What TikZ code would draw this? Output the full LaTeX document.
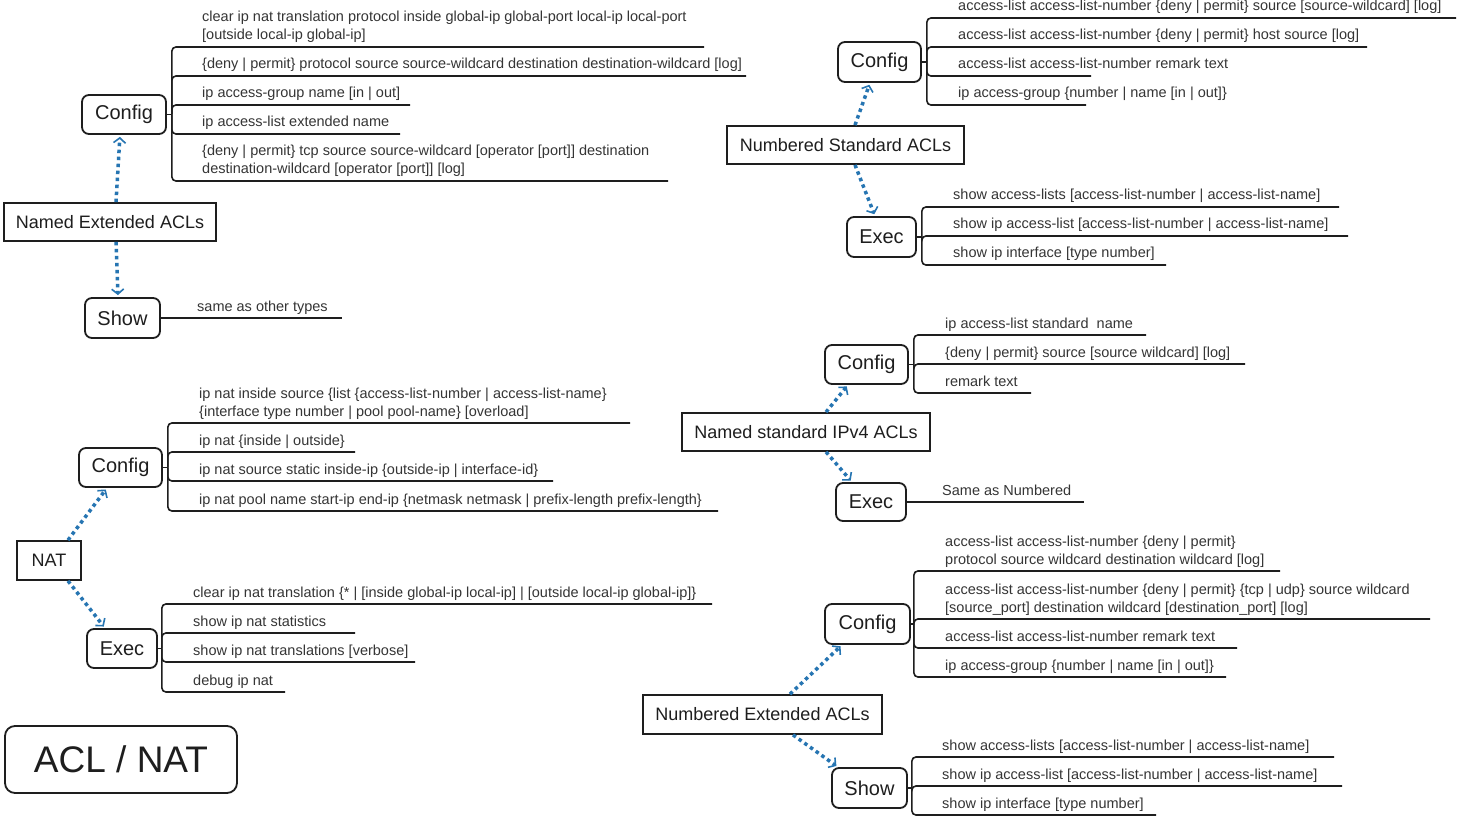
\documentclass[tikz,border=0pt]{standalone}
\usepackage{fontspec}
\setmainfont{Liberation Sans}
\usetikzlibrary{arrows.meta}
\definecolor{acblue}{RGB}{38,117,178}
\definecolor{ink}{RGB}{30,30,30}
% single-line item: parent, stub, underline y, line end x, text x, name, text
\newcommand\itm[7]{%
  \draw[bline,sharp corners] (#1.east) -- ++(#2,0);
  \draw[bline] (#1.east) ++(#2,0) |- (#4,#3);
  \node[itemtxt] (#6) at (#5,#3-7) {#7};}
% two-line item
\newcommand\itmm[8]{%
  \draw[bline,sharp corners] (#1.east) -- ++(#2,0);
  \draw[bline] (#1.east) ++(#2,0) |- (#4,#3);
  \node[itemtxt] (#6a) at (#5,#3-25) {#7};
  \node[itemtxt] (#6b) at (#5,#3-7) {#8};}
\begin{document}
\begin{tikzpicture}[x=1pt,y=-1pt,
  rootbox/.style={draw=ink, line width=1.8pt, inner sep=0pt, font=\fontsize{18}{20}\selectfont, text=ink},
  subbox/.style={draw=ink, line width=1.8pt, rounded corners=7pt, inner sep=0pt, font=\fontsize{20}{22}\selectfont, text=ink},
  bline/.style={draw=ink, line width=1.6pt, rounded corners=4pt},
  itemtxt/.style={anchor=base west, inner sep=0pt, font=\fontsize{14.5}{18}\selectfont, text=ink!90},
  conn/.style={draw=acblue, line width=3.5pt, dash pattern=on 3.5pt off 3.5pt,
    -{Straight Barb[length=5pt,width=12pt,line width=1.6pt]}, shorten >=2pt},
]
\fill[white] (0,0) rectangle (1461,818);
\useasboundingbox (0,0) rectangle (1461,818);

% ---------- Named Extended ACLs ----------
\node[rootbox,minimum width=212pt,minimum height=38pt] (neroot) at (110,222) {Named Extended ACLs};
\node[subbox,minimum width=84pt,minimum height=39pt] (necfg) at (124,114.5) {Config};
\node[subbox,minimum width=75pt,minimum height=40pt] (neshow) at (122.5,318) {Show};
\draw[conn] ([xshift=6pt]neroot.north) -- ([xshift=-4pt]necfg.south);
\draw[conn] ([xshift=6pt]neroot.south) -- ([xshift=-4.5pt]neshow.north);
\itmm{necfg}{5}{47}{704}{202}{ne1}{clear ip nat translation protocol inside global-ip global-port local-ip local-port}{[outside local-ip global-ip]}
\itm{necfg}{5}{76}{746}{202}{ne2}{\{deny | permit\} protocol source source-wildcard destination destination-wildcard [log]}
\itm{necfg}{5}{105}{410}{202}{ne3}{ip access-group name [in | out]}
\itm{necfg}{5}{134}{400}{202}{ne4}{ip access-list extended name}
\itmm{necfg}{5}{181}{668}{202}{ne5}{\{deny | permit\} tcp source source-wildcard [operator [port]] destination}{destination-wildcard [operator [port]] [log]}
\draw[bline] (neshow.east) -- ++(181,0);
\node[itemtxt] (ne6) at (197,311) {same as other types};

% ---------- Numbered Standard ACLs ----------
\node[rootbox,minimum width=237pt,minimum height=38pt] (nsroot) at (845.5,145) {Numbered Standard ACLs};
\node[subbox,minimum width=83pt,minimum height=40pt] (nscfg) at (879.5,62) {Config};
\node[subbox,minimum width=69pt,minimum height=40pt] (nsexec) at (881.5,237) {Exec};
\draw[conn] ([xshift=9.5pt]nsroot.north) -- ([xshift=-9.5pt]nscfg.south);
\draw[conn] ([xshift=9.5pt]nsroot.south) -- ([xshift=-6.5pt]nsexec.north);
\itm{nscfg}{5}{18}{1456}{958}{ns1}{access-list access-list-number \{deny | permit\} source [source-wildcard] [log]}
\itm{nscfg}{5}{47}{1367}{958}{ns2}{access-list access-list-number \{deny | permit\} host source [log]}
\itm{nscfg}{5}{76}{1091}{958}{ns3}{access-list access-list-number remark text}
\itm{nscfg}{5}{105}{1086}{958}{ns4}{ip access-group \{number | name [in | out]\}}
\itm{nsexec}{5}{207}{1339}{953}{ns5}{show access-lists [access-list-number | access-list-name]}
\itm{nsexec}{5}{236}{1348}{953}{ns6}{show ip access-list [access-list-number | access-list-name]}
\itm{nsexec}{5}{265}{1166}{953}{ns7}{show ip interface [type number]}

% ---------- Named standard IPv4 ACLs ----------
\node[rootbox,minimum width=248pt,minimum height=38pt] (nsiroot) at (806,432) {Named standard IPv4 ACLs};
\node[subbox,minimum width=83pt,minimum height=39pt] (nsicfg) at (866.5,364.5) {Config};
\node[subbox,minimum width=70pt,minimum height=38pt] (nsiexec) at (871,502) {Exec};
\draw[conn] ([xshift=20pt]nsiroot.north) -- ([xshift=-18.5pt]nsicfg.south);
\draw[conn] ([xshift=20pt]nsiroot.south) -- ([xshift=-19pt]nsiexec.north);
\itm{nsicfg}{5}{335}{1146}{945}{nsi1}{ip access-list standard\ \ name}
\itm{nsicfg}{5}{364}{1245}{945}{nsi2}{\{deny | permit\} source [source wildcard] [log]}
\itm{nsicfg}{5}{393}{1031}{945}{nsi3}{remark text}
\draw[bline] (nsiexec.east) -- ++(177,0);
\node[itemtxt] (nsi4) at (942,495) {Same as Numbered};

% ---------- NAT ----------
\node[rootbox,minimum width=64pt,minimum height=39pt] (natroot) at (49,560.5) {NAT};
\node[subbox,minimum width=83pt,minimum height=39pt] (natcfg) at (120.5,467.5) {Config};
\node[subbox,minimum width=70pt,minimum height=39pt] (natexec) at (122,648.5) {Exec};
\draw[conn] ([xshift=19pt]natroot.north) -- ([xshift=-13.5pt]natcfg.south);
\draw[conn] ([xshift=19pt]natroot.south) -- ([xshift=-17pt]natexec.north);
\itmm{natcfg}{5}{423}{630}{199}{nat1}{ip nat inside source \{list \{access-list-number | access-list-name\}}{\{interface type number | pool pool-name\} [overload]}
\itm{natcfg}{5}{452}{355}{199}{nat2}{ip nat \{inside | outside\}}
\itm{natcfg}{5}{481}{553}{199}{nat3}{ip nat source static inside-ip \{outside-ip | interface-id\}}
\itm{natcfg}{5}{511}{718}{199}{nat4}{ip nat pool name start-ip end-ip \{netmask netmask | prefix-length prefix-length\}}
\itm{natexec}{4}{604}{712}{193}{nat5}{clear ip nat translation \{* | [inside global-ip local-ip] | [outside local-ip global-ip]\}}
\itm{natexec}{4}{633}{355}{193}{nat6}{show ip nat statistics}
\itm{natexec}{4}{662}{415}{193}{nat7}{show ip nat translations [verbose]}
\itm{natexec}{4}{692}{285}{193}{nat8}{debug ip nat}

% ---------- Numbered Extended ACLs ----------
\node[rootbox,minimum width=239pt,minimum height=39pt] (nxroot) at (762.5,714.5) {Numbered Extended ACLs};
\node[subbox,minimum width=85pt,minimum height=40pt] (nxcfg) at (867.5,624) {Config};
\node[subbox,minimum width=75pt,minimum height=40pt] (nxshow) at (869.5,788) {Show};
\draw[conn] ([xshift=27.5pt]nxroot.north) -- ([xshift=-25.5pt]nxcfg.south);
\draw[conn] ([xshift=30.5pt]nxroot.south) -- ([xshift=-31.5pt]nxshow.north);
\itmm{nxcfg}{3}{571}{1280}{945}{nx1}{access-list access-list-number \{deny | permit\}}{protocol source wildcard destination wildcard [log]}
\itmm{nxcfg}{3}{619}{1430}{945}{nx2}{access-list access-list-number \{deny | permit\} \{tcp | udp\} source wildcard}{[source\_port] destination wildcard [destination\_port] [log]}
\itm{nxcfg}{3}{648}{1237}{945}{nx3}{access-list access-list-number remark text}
\itm{nxcfg}{3}{677}{1226}{945}{nx4}{ip access-group \{number | name [in | out]\}}
\itm{nxshow}{4}{757}{1334}{942}{nx5}{show access-lists [access-list-number | access-list-name]}
\itm{nxshow}{4}{786}{1342}{942}{nx6}{show ip access-list [access-list-number | access-list-name]}
\itm{nxshow}{4}{815}{1156}{942}{nx7}{show ip interface [type number]}

% ---------- Title ----------
\node[draw=ink,line width=1.8pt,rounded corners=10pt,minimum width=232pt,minimum height=67pt,inner sep=0pt,
      font=\fontsize{37}{40}\selectfont,text=ink] (title) at (121,759.5) {ACL / NAT};
\end{tikzpicture}
\end{document}
